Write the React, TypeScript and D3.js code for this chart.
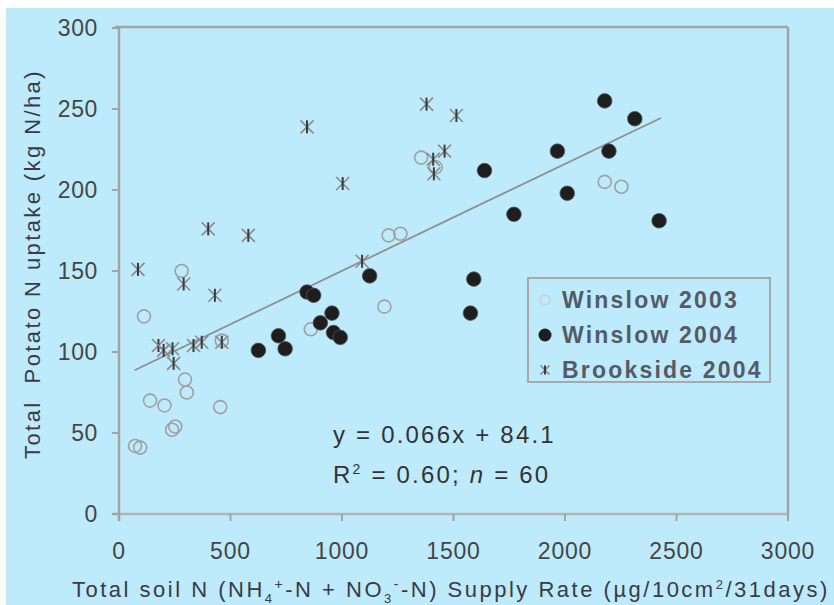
import React from 'react';
import * as d3 from 'd3';

// tick values
const xTicks = [0, 500, 1000, 1500, 2000, 2500, 3000];
const yTicks = [0, 50, 100, 150, 200, 250, 300];

// Winslow 2003 (open circles)
const w2003X = [72, 95, 112, 139, 204, 238, 252, 281, 296, 304, 454, 461, 860, 1190, 1209, 1262, 1355, 1420, 2178, 2253];
const w2003Y = [42, 41, 122, 70, 67, 52, 54, 150, 83, 75, 66, 107, 114, 128, 172, 173, 220, 214, 205, 202];

// Winslow 2004 (filled circles)
const w2004X = [625, 715, 745, 843, 873, 903, 955, 962, 992, 1124, 1576, 1591, 1639, 1771, 1966, 2010, 2178, 2197, 2313, 2422];
const w2004Y = [101, 110, 102, 137, 135, 118, 124, 112, 109, 147, 124, 145, 212, 185, 224, 198, 255, 224, 244, 181];

// Brookside 2004 (stars)
const b2004X = [85, 177, 200, 240, 245, 290, 334, 371, 400, 430, 461, 580, 843, 1003, 1090, 1379, 1409, 1412, 1460, 1513];
const b2004Y = [151, 104, 101, 102, 93, 142, 104, 106, 176, 135, 106, 172, 239, 204, 156, 253, 219, 210, 224, 246];

// trend line y = 0.066x + 84.1
const slope = 0.066;
const intercept = 84.1;
const trendRange = [70, 2430];

const legendLabels = ['Winslow 2003', 'Winslow 2004', 'Brookside 2004'];

const W = 834;
const H = 605;
const frame = '#a3a3a3';
const bg = '#bdebfc';

export default function App() {
  const x = d3.scaleLinear().domain([0, 3000]).range([119, 788]);
  const y = d3.scaleLinear().domain([0, 300]).range([514, 28]);

  const pts = (xs: number[], ys: number[]) => xs.map((v, i) => [x(v), y(ys[i])]);

  const line = d3.line<number>().x((d) => x(d)).y((d) => y(slope * d + intercept));

  const star = (cx: number, cy: number, s: number, k: string) => (
    <g key={k} transform={`translate(${cx},${cy})`}>
      <path d={`M${-s},${-s}L${s},${s}M${-s},${s}L${s},${-s}`} stroke="#8a8a8a" strokeWidth={1.6} fill="none" />
      <path d={`M0,${-s}L0,${s}`} stroke="#3a3a3a" strokeWidth={2} />
    </g>
  );

  const font = 'Arial, "Liberation Sans", sans-serif';
  const left = x(0);
  const right = x(3000);
  const top = y(300) - 1;
  const bottom = y(0);

  return (
    <svg width={W} height={H} style={{ position: 'absolute', left: 0, top: 0 }} fontFamily={font}>
      <rect x={0} y={0} width={W} height={H} fill="#ffffff" />
      <rect x={6} y={8} width={W - 6} height={H - 8} fill={bg} />

      {/* frame */}
      <line x1={left - 4} x2={right} y1={top} y2={top} stroke={frame} strokeWidth={2.5} />
      <line x1={right} x2={right} y1={top} y2={bottom} stroke={frame} strokeWidth={2.5} />
      <line x1={left - 7} x2={right} y1={bottom} y2={bottom} stroke="#b4b4b4" strokeWidth={2.5} />
      <line x1={left} x2={left} y1={top} y2={bottom + 7} stroke={frame} strokeWidth={2.5} />

      {/* y ticks */}
      {yTicks.map((t) => (
        <g key={'y' + t}>
          <line x1={left - 7} x2={left} y1={y(t)} y2={y(t)} stroke={frame} strokeWidth={2} />
          <text x={98} y={y(t)} dy="0.36em" textAnchor="end" fontSize={23} fill="#454545" letterSpacing={0.6}>
            {t}
          </text>
        </g>
      ))}

      {/* x ticks */}
      {xTicks.map((t) => (
        <g key={'x' + t}>
          <line x1={x(t)} x2={x(t)} y1={bottom} y2={bottom + 7} stroke={frame} strokeWidth={2} />
          <text x={x(t)} y={559} textAnchor="middle" fontSize={23} fill="#454545" letterSpacing={0.8}>
            {t}
          </text>
        </g>
      ))}

      {/* trend line */}
      <path d={line(trendRange) || ''} stroke="#8f8f8f" strokeWidth={1.8} fill="none" />

      {/* series */}
      {pts(w2003X, w2003Y).map(([cx, cy], i) => (
        <circle key={'o' + i} cx={cx} cy={cy} r={6.5} fill="none" stroke="#a0a0a0" strokeWidth={1.6} />
      ))}
      {pts(b2004X, b2004Y).map(([cx, cy], i) => star(cx, cy, 6.5, 's' + i))}
      {pts(w2004X, w2004Y).map(([cx, cy], i) => (
        <circle key={'f' + i} cx={cx} cy={cy} r={7.3} fill="#1e1e1e" stroke="#555" strokeWidth={0.8} />
      ))}

      {/* legend */}
      <rect x={528} y={278} width={242} height={104} fill="none" stroke="#a8a8a8" strokeWidth={2} />
      <circle cx={545} cy={300} r={5} fill="none" stroke="#cfcfcf" strokeWidth={1.6} />
      <circle cx={545} cy={335} r={6.5} fill="#1e1e1e" />
      {star(545, 370, 4.5, 'ls')}
      {legendLabels.map((l, i) => (
        <text key={l} x={562} y={300 + i * 35} dy="0.36em" fontSize={23} fontWeight="bold" fill="#555a66" letterSpacing={2.2}>
          {l}
        </text>
      ))}

      {/* equation */}
      <text x={333} y={443} fontSize={24} fill="#333" letterSpacing={2.2} style={{ whiteSpace: 'pre' }}>
        y = 0.066x + 84.1
      </text>
      <text x={333} y={483} fontSize={24} fill="#333" letterSpacing={2.2} style={{ whiteSpace: 'pre' }}>
        R<tspan fontSize={14} dy={-9}>2</tspan>
        <tspan dy={9}> = 0.60; </tspan>
        <tspan fontStyle="italic">n</tspan> = 60
      </text>

      {/* axis titles */}
      <text x={72} y={597} fontSize={22} fill="#3a3a48" letterSpacing={2.5}>
        Total soil N (NH<tspan fontSize={13} dy={6}>4</tspan>
        <tspan fontSize={14} dy={-14}>+</tspan>
        <tspan dy={8}>-N + NO</tspan>
        <tspan fontSize={13} dy={6}>3</tspan>
        <tspan fontSize={14} dy={-14}>-</tspan>
        <tspan dy={8}>-N) Supply Rate (µg/10cm</tspan>
        <tspan fontSize={13} dy={-8}>2</tspan>
        <tspan dy={8}>/31days)</tspan>
      </text>
      <text
        transform="translate(40,264) rotate(-90)"
        textAnchor="middle"
        fontSize={22}
        fill="#3a3a48"
        letterSpacing={2.4}
        style={{ whiteSpace: 'pre' }}
      >
        {'Total  Potato N uptake (kg N/ha)'}
      </text>
    </svg>
  );
}
